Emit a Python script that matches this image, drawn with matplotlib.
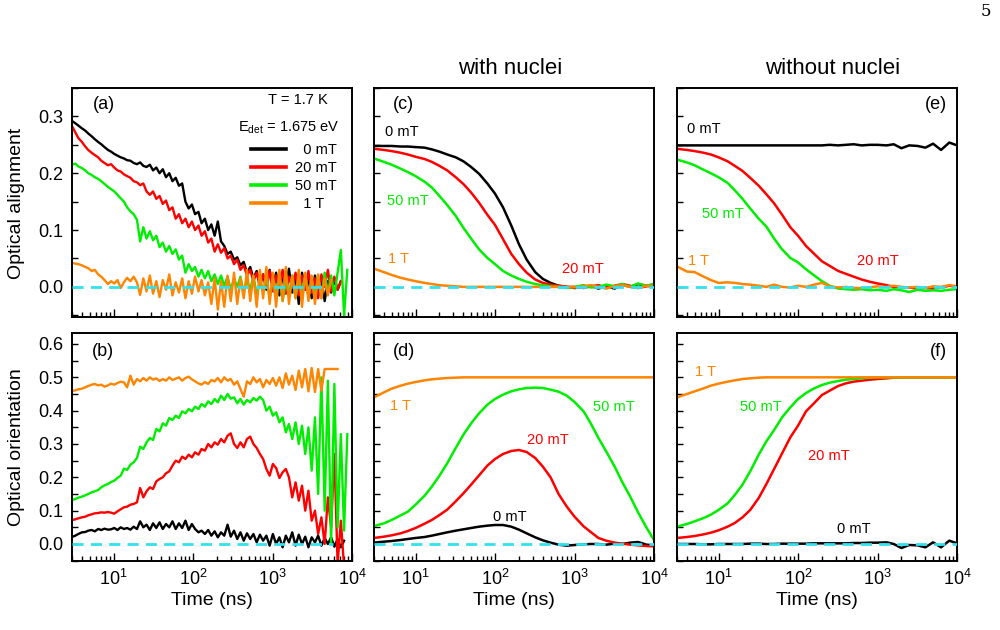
# -*- coding: utf-8 -*-
# plot.py - optical alignment / orientation vs time, experiment and model

import matplotlib
matplotlib.use("Agg")
import matplotlib.pyplot as plt
from matplotlib.ticker import MultipleLocator, LogLocator, NullFormatter, FormatStrFormatter

plt.rcParams['font.family'] = ['Liberation Sans', 'DejaVu Sans']
plt.rcParams['mathtext.fontset'] = 'custom'
plt.rcParams['mathtext.rm'] = 'Liberation Sans'
plt.rcParams['mathtext.it'] = 'Liberation Sans:italic'
plt.rcParams['mathtext.bf'] = 'Liberation Sans:bold'
plt.rcParams['mathtext.default'] = 'regular'

# ---------------- data ----------------
fields = ['  0 mT', '20 mT', '50 mT', '  1 T']
colors = ['#000000', '#FF0000', '#00EE00', '#FF8400']

# measured time axis (ns), panels (a) and (b)
t_exp = [3.0, 3.3, 3.6, 4.0, 4.4, 4.8, 5.3, 5.8, 6.4, 7.0,
         7.7, 8.5, 9.3, 10.2, 11.2, 12.3, 13.5, 14.8, 16.3, 17.9,
         19.7, 21.6, 23.7, 26.0, 28.6, 31.4, 34.5, 37.9, 41.6, 45.7,
         50.2, 55.1, 60.5, 66.5, 73.0, 80.2, 88.1, 96.8, 106, 117,
         128, 141, 155, 170, 187, 205, 225, 247, 272, 298,
         328, 360, 395, 434, 477, 524, 575, 632, 694, 762,
         837, 920, 1010, 1110, 1220, 1340, 1470, 1610, 1770, 1950,
         2140, 2350, 2580, 2830, 3110, 3420, 3750, 4120, 4530, 4970,
         5460, 6000, 6590, 7240, 7950, 8730]

# (a) optical alignment, experiment
a_black = [0.292, 0.288, 0.284, 0.279, 0.275, 0.270, 0.265, 0.260, 0.255, 0.251,
           0.246, 0.241, 0.238, 0.234, 0.231, 0.228, 0.226, 0.223, 0.222, 0.218,
           0.216, 0.219, 0.213, 0.211, 0.215, 0.205, 0.210, 0.200, 0.207, 0.193,
           0.200, 0.186, 0.192, 0.178, 0.182, 0.150, 0.138, 0.145, 0.128, 0.132,
           0.112, 0.120, 0.100, 0.110, 0.090, 0.115, 0.080, 0.072, 0.058, 0.062,
           0.048, 0.052, 0.038, 0.044, 0.025, 0.035, 0.015, 0.028, 0.005, 0.022,
           -0.005, 0.030, 0.000, 0.025, -0.015, 0.020, 0.002, 0.032, -0.010, 0.018,
           -0.030, 0.025, -0.005, 0.015, -0.020, 0.020, -0.010, 0.015, -0.025, 0.010,
           -0.010, 0.012, -0.005, 0.010]
a_red = [0.283, 0.272, 0.262, 0.255, 0.247, 0.241, 0.236, 0.232, 0.228, 0.222,
         0.218, 0.214, 0.216, 0.210, 0.205, 0.203, 0.198, 0.195, 0.192, 0.186,
         0.184, 0.179, 0.182, 0.168, 0.162, 0.168, 0.155, 0.160, 0.146, 0.152,
         0.135, 0.140, 0.120, 0.128, 0.112, 0.120, 0.105, 0.115, 0.100, 0.108,
         0.090, 0.098, 0.078, 0.085, 0.062, 0.075, 0.060, 0.068, 0.050, 0.055,
         0.040, 0.048, 0.030, 0.038, 0.020, 0.030, 0.010, 0.025, 0.000, 0.022,
         0.005, 0.028, -0.008, 0.020, 0.000, 0.030, -0.012, 0.018, 0.002, 0.025,
         -0.015, 0.020, -0.005, 0.028, -0.010, 0.015, -0.020, 0.022, 0.000, 0.030,
         -0.008, 0.018, -0.005, 0.010]
a_green = [0.215, 0.217, 0.212, 0.209, 0.205, 0.200, 0.197, 0.193, 0.190, 0.186,
           0.181, 0.176, 0.172, 0.168, 0.162, 0.156, 0.150, 0.140, 0.133, 0.128,
           0.118, 0.080, 0.105, 0.085, 0.098, 0.082, 0.090, 0.070, 0.078, 0.062,
           0.072, 0.058, 0.066, 0.048, 0.055, 0.025, 0.040, 0.028, 0.035, 0.018,
           0.030, 0.015, 0.028, 0.010, 0.022, 0.005, 0.020, 0.002, 0.018, -0.005,
           0.015, 0.000, 0.018, -0.010, 0.012, -0.005, 0.020, -0.015, 0.010, -0.008,
           0.015, -0.020, 0.012, -0.010, 0.018, -0.025, 0.010, -0.015, 0.020, -0.020,
           0.015, -0.010, 0.022, -0.018, 0.012, -0.015, 0.020, -0.020, 0.025, -0.010,
           0.020, -0.015, 0.025, 0.065, -0.050, 0.030]
a_orange = [0.042, 0.041, 0.040, 0.038, 0.035, 0.033, 0.028, 0.030, 0.022, 0.018,
            0.012, 0.005, 0.010, 0.006, 0.012, -0.002, 0.008, 0.016, 0.010, 0.018,
            0.008, -0.014, 0.015, -0.008, 0.020, -0.012, 0.010, -0.018, 0.012, -0.005,
            0.022, -0.015, 0.008, -0.010, 0.015, -0.020, 0.010, -0.012, 0.018, -0.008,
            0.012, -0.015, 0.008, -0.030, 0.015, -0.040, 0.010, -0.035, 0.020, -0.025,
            0.025, -0.030, 0.015, -0.020, 0.030, -0.025, 0.020, -0.035, 0.030, -0.020,
            0.035, -0.030, 0.025, -0.035, 0.030, -0.025, 0.035, -0.030, 0.020, -0.020,
            0.030, -0.035, 0.025, -0.025, 0.020, -0.030, 0.022, -0.020, 0.015, -0.015,
            0.012]

# (b) optical orientation, experiment
b_black = [0.021, 0.025, 0.030, 0.035, 0.036, 0.040, 0.042, 0.038, 0.045, 0.042,
           0.046, 0.043, 0.044, 0.048, 0.042, 0.050, 0.045, 0.048, 0.043, 0.052,
           0.045, 0.068, 0.050, 0.058, 0.042, 0.062, 0.048, 0.065, 0.045, 0.060,
           0.050, 0.068, 0.045, 0.062, 0.048, 0.070, 0.042, 0.060, 0.045, 0.035,
           0.040, 0.030, 0.042, 0.025, 0.038, 0.020, 0.035, 0.025, 0.058, 0.022,
           0.040, 0.015, 0.035, 0.010, 0.032, 0.015, 0.030, 0.005, 0.028, 0.010,
           0.025, -0.005, 0.030, 0.000, 0.020, -0.010, 0.025, 0.005, 0.035, -0.005,
           0.028, 0.000, 0.022, -0.010, 0.020, 0.005, 0.025, -0.005, 0.018, 0.000,
           0.020, -0.008, 0.015, -0.010, 0.010]
b_red = [0.072, 0.074, 0.077, 0.080, 0.082, 0.086, 0.089, 0.092, 0.093, 0.095,
         0.094, 0.096, 0.094, 0.091, 0.098, 0.104, 0.110, 0.112, 0.118, 0.120,
         0.125, 0.168, 0.140, 0.158, 0.170, 0.165, 0.188, 0.195, 0.200, 0.212,
         0.218, 0.235, 0.250, 0.245, 0.262, 0.255, 0.268, 0.260, 0.275, 0.268,
         0.285, 0.280, 0.300, 0.290, 0.305, 0.298, 0.315, 0.305, 0.325, 0.332,
         0.300, 0.288, 0.305, 0.290, 0.315, 0.322, 0.300, 0.288, 0.270, 0.255,
         0.225, 0.205, 0.240, 0.228, 0.198, 0.215, 0.225, 0.200, 0.140, 0.185,
         0.130, 0.175, 0.100, 0.160, 0.070, 0.100, 0.030, 0.080, 0.000, 0.140,
         0.050, 0.270, -0.060, 0.070, -0.070]
b_green = [0.132, 0.135, 0.139, 0.142, 0.146, 0.150, 0.155, 0.158, 0.162, 0.170,
           0.176, 0.180, 0.186, 0.190, 0.198, 0.205, 0.226, 0.222, 0.238, 0.245,
           0.258, 0.292, 0.285, 0.305, 0.318, 0.312, 0.345, 0.338, 0.362, 0.355,
           0.378, 0.372, 0.385, 0.378, 0.398, 0.392, 0.405, 0.398, 0.412, 0.405,
           0.420, 0.412, 0.428, 0.420, 0.435, 0.425, 0.445, 0.432, 0.450, 0.436,
           0.440, 0.422, 0.435, 0.418, 0.432, 0.425, 0.438, 0.430, 0.442, 0.432,
           0.400, 0.412, 0.385, 0.395, 0.365, 0.380, 0.335, 0.360, 0.315, 0.365,
           0.300, 0.355, 0.270, 0.350, 0.220, 0.380, 0.150, 0.500, 0.100, 0.490,
           0.000, 0.480, 0.050, 0.330, 0.040, 0.330]
b_orange = [0.459, 0.461, 0.464, 0.466, 0.470, 0.474, 0.478, 0.480, 0.476, 0.478,
            0.472, 0.476, 0.481, 0.478, 0.483, 0.487, 0.485, 0.470, 0.505, 0.478,
            0.495, 0.488, 0.498, 0.490, 0.500, 0.493, 0.497, 0.489, 0.495, 0.490,
            0.500, 0.492, 0.496, 0.500, 0.490, 0.498, 0.502, 0.494, 0.488, 0.482,
            0.478, 0.486, 0.480, 0.492, 0.488, 0.498, 0.485, 0.500, 0.490, 0.495,
            0.478, 0.488, 0.465, 0.442, 0.488, 0.480, 0.500, 0.485, 0.495, 0.470,
            0.492, 0.480, 0.498, 0.475, 0.500, 0.468, 0.512, 0.478, 0.505, 0.462,
            0.520, 0.470, 0.525, 0.458, 0.528, 0.456, 0.525, 0.460, 0.525, 0.525,
            0.525, 0.525, 0.525]

# model time axis (ns), panels (c)-(f)
t_sim = [3, 4, 5, 6.5, 8, 10, 13, 16, 20, 25,
         32, 40, 50, 63, 80, 100, 126, 160, 200, 250,
         320, 400, 500, 630, 800, 1000, 1300, 1600, 2000, 2500,
         3200, 4000, 5000, 6300, 8000, 10000]

# (c) alignment, with nuclei
c_black = [0.248, 0.248, 0.248, 0.247, 0.247, 0.246, 0.245, 0.242, 0.238, 0.233,
           0.228, 0.221, 0.211, 0.199, 0.182, 0.164, 0.140, 0.108, 0.075, 0.048,
           0.026, 0.014, 0.007, 0.002, 0.000, -0.002, 0.000, 0.002, -0.003, 0.001,
           -0.003, 0.004, 0.000, 0.005, 0.002, 0.004]
c_red = [0.243, 0.241, 0.239, 0.236, 0.233, 0.229, 0.225, 0.220, 0.213, 0.205,
         0.193, 0.181, 0.166, 0.148, 0.127, 0.109, 0.084, 0.058, 0.040, 0.025,
         0.013, 0.007, 0.004, 0.002, 0.000, 0.000, -0.002, 0.001, 0.003, -0.001,
         0.002, 0.005, 0.002, -0.002, 0.001, 0.002]
c_green = [0.226, 0.220, 0.215, 0.208, 0.202, 0.195, 0.185, 0.175, 0.160, 0.144,
           0.125, 0.104, 0.085, 0.066, 0.051, 0.040, 0.028, 0.020, 0.014, 0.009,
           0.005, 0.003, 0.001, 0.000, -0.002, 0.000, 0.003, -0.001, 0.000, 0.004,
           0.001, 0.005, 0.000, 0.006, 0.002, 0.005]
c_orange = [0.032, 0.026, 0.021, 0.016, 0.013, 0.010, 0.007, 0.005, 0.003, 0.002,
            0.001, 0.000, 0.000, 0.000, 0.000, 0.000, 0.000, 0.000, 0.000, 0.000,
            0.000, 0.000, 0.000, 0.000, 0.000, -0.001, 0.001, 0.003, 0.000, -0.003,
            0.001, 0.003, 0.000, -0.002, 0.002, 0.001]

# (d) orientation, with nuclei
d_black = [0.004, 0.007, 0.009, 0.012, 0.015, 0.018, 0.021, 0.025, 0.030, 0.035,
           0.040, 0.044, 0.048, 0.052, 0.055, 0.057, 0.057, 0.052, 0.043, 0.032,
           0.020, 0.011, 0.004, -0.002, -0.005, -0.003, -0.001, 0.000, 0.000, -0.002,
           0.001, 0.000, 0.004, 0.006, -0.002, -0.004]
d_red = [0.018, 0.022, 0.026, 0.032, 0.039, 0.048, 0.061, 0.072, 0.087, 0.103,
         0.128, 0.152, 0.178, 0.206, 0.235, 0.255, 0.270, 0.279, 0.282, 0.276,
         0.258, 0.232, 0.200, 0.150, 0.112, 0.082, 0.053, 0.036, 0.018, 0.010,
         0.004, 0.001, -0.002, -0.004, -0.006, -0.007]
d_green = [0.054, 0.062, 0.072, 0.086, 0.097, 0.118, 0.145, 0.172, 0.205, 0.242,
           0.288, 0.328, 0.362, 0.392, 0.418, 0.435, 0.448, 0.458, 0.464, 0.468,
           0.469, 0.468, 0.463, 0.457, 0.445, 0.426, 0.398, 0.362, 0.318, 0.278,
           0.232, 0.185, 0.143, 0.095, 0.050, 0.012]
d_orange = [0.440, 0.455, 0.466, 0.475, 0.481, 0.486, 0.491, 0.494, 0.496, 0.498,
            0.499, 0.500, 0.500, 0.500, 0.500, 0.500, 0.500, 0.500, 0.500, 0.500,
            0.500, 0.500, 0.500, 0.500, 0.500, 0.500, 0.500, 0.500, 0.500, 0.500,
            0.500, 0.500, 0.500, 0.500, 0.500, 0.500]

# (e) alignment, without nuclei
e_black = [0.249, 0.249, 0.249, 0.249, 0.249, 0.249, 0.249, 0.249, 0.249, 0.249,
           0.249, 0.249, 0.249, 0.249, 0.249, 0.249, 0.249, 0.249, 0.249, 0.250,
           0.249, 0.250, 0.251, 0.249, 0.250, 0.250, 0.249, 0.251, 0.244, 0.249,
           0.248, 0.245, 0.252, 0.241, 0.254, 0.249]
e_red = [0.243, 0.241, 0.239, 0.236, 0.233, 0.228, 0.221, 0.213, 0.204, 0.192,
         0.178, 0.163, 0.147, 0.127, 0.105, 0.090, 0.072, 0.058, 0.045, 0.037,
         0.028, 0.023, 0.018, 0.013, 0.009, 0.006, 0.003, 0.000, -0.001, -0.001,
         -0.003, -0.002, -0.003, -0.001, 0.002, 0.000]
e_green = [0.224, 0.219, 0.214, 0.206, 0.200, 0.193, 0.183, 0.170, 0.155, 0.138,
           0.120, 0.106, 0.085, 0.066, 0.051, 0.043, 0.031, 0.020, 0.010, 0.002,
           -0.003, -0.004, -0.005, -0.004, -0.006, -0.005, -0.007, -0.004, -0.006, -0.009,
           -0.005, -0.007, -0.006, -0.007, -0.005, -0.004]
e_orange = [0.036, 0.027, 0.026, 0.018, 0.012, 0.007, 0.008, 0.007, 0.005, 0.004,
            0.002, 0.000, 0.004, 0.000, -0.001, 0.002, 0.000, 0.004, 0.007, 0.001,
            -0.001, 0.000, -0.002, -0.002, -0.001, 0.001, 0.000, 0.002, 0.000, -0.001,
            0.000, -0.002, 0.001, 0.000, 0.003, 0.001]

# (f) orientation, without nuclei
f_black = [0.000, 0.000, 0.000, -0.001, -0.001, 0.000, 0.000, 0.000, 0.000, 0.001,
           0.001, 0.000, 0.000, 0.001, 0.001, 0.001, 0.001, 0.002, 0.002, 0.002,
           0.002, 0.002, 0.003, 0.003, 0.004, 0.004, 0.005, 0.000, -0.012, -0.003,
           -0.004, -0.010, 0.005, -0.010, 0.010, 0.002]
f_red = [0.018, 0.021, 0.024, 0.029, 0.034, 0.041, 0.052, 0.063, 0.080, 0.102,
         0.138, 0.180, 0.225, 0.272, 0.320, 0.355, 0.398, 0.423, 0.447, 0.460,
         0.474, 0.482, 0.487, 0.490, 0.493, 0.495, 0.497, 0.499, 0.500, 0.500,
         0.500, 0.500, 0.500, 0.500, 0.500, 0.500]
f_green = [0.052, 0.060, 0.068, 0.078, 0.088, 0.102, 0.122, 0.147, 0.178, 0.218,
           0.268, 0.308, 0.342, 0.380, 0.410, 0.435, 0.453, 0.467, 0.477, 0.484,
           0.489, 0.493, 0.495, 0.497, 0.499, 0.500, 0.500, 0.500, 0.500, 0.500,
           0.500, 0.500, 0.500, 0.500, 0.500, 0.500]
f_orange = [0.440, 0.450, 0.458, 0.467, 0.475, 0.481, 0.487, 0.491, 0.495, 0.497,
            0.499, 0.500, 0.500, 0.500, 0.500, 0.500, 0.500, 0.500, 0.500, 0.500,
            0.500, 0.500, 0.500, 0.500, 0.500, 0.500, 0.500, 0.500, 0.500, 0.500,
            0.500, 0.500, 0.500, 0.500, 0.500, 0.500]

# end of the cyan zero line in each panel (ns)
zero_end = {'a': 5000, 'b': 5800, 'c': 1e4, 'd': 1e4, 'e': 1e4, 'f': 1e4}

ZERO_COLOR = '#33E0F0'


def style_axes(ax, top_row, show_y, show_x):
    ax.set_xscale('log')
    ax.set_xlim(3, 1e4)
    if top_row:
        ax.set_ylim(-0.053, 0.35)
    else:
        ax.set_ylim(-0.051, 0.633)
    ax.yaxis.set_major_locator(MultipleLocator(0.1))
    ax.yaxis.set_minor_locator(MultipleLocator(0.05))
    ax.yaxis.set_major_formatter(FormatStrFormatter('%.1f'))
    ax.xaxis.set_major_locator(LogLocator(base=10, numticks=10))
    ax.xaxis.set_minor_locator(LogLocator(base=10, subs=range(2, 10), numticks=20))
    ax.xaxis.set_minor_formatter(NullFormatter())
    ax.tick_params(which='both', direction='in', top=False, right=False)
    ax.tick_params(axis='x', which='major', length=6, width=1.0, labelsize=13, pad=6)
    ax.tick_params(axis='x', which='minor', length=3.5, width=1.0)
    ax.tick_params(axis='y', which='both', length=4, width=1.0, labelsize=13, pad=6)
    if not show_y:
        ax.tick_params(axis='y', labelleft=False)
    if not show_x:
        ax.tick_params(axis='x', labelbottom=False)
    else:
        ax.set_xlabel('Time (ns)', fontsize=14, labelpad=2)
    for sp in ax.spines.values():
        sp.set_linewidth(1.4)


def draw_curves(ax, t, curves, lw=1.8):
    for y, c in zip(curves, colors):
        ax.plot(t[:len(y)], y, color=c, lw=lw, solid_joinstyle='round')


def zero_line(ax, key):
    ax.plot([3, zero_end[key]], [0, 0], color=ZERO_COLOR, lw=2.0,
            linestyle=(0, (4, 2.6)), zorder=5)


fig = plt.figure(figsize=(10, 6.3), dpi=100)

W, H = 1000.0, 630.0
col_left = [72, 374, 677]
col_w = 280
row_box = [(88, 317), (333, 561)]


def make_ax(col, row):
    top, bot = row_box[row]
    return fig.add_axes([col_left[col] / W, 1 - bot / H, col_w / W, (bot - top) / H])


ax_a = make_ax(0, 0)
ax_b = make_ax(0, 1)
ax_c = make_ax(1, 0)
ax_d = make_ax(1, 1)
ax_e = make_ax(2, 0)
ax_f = make_ax(2, 1)

draw_curves(ax_a, t_exp, [a_black, a_red, a_green, a_orange], lw=1.7)
draw_curves(ax_b, t_exp, [b_black, b_red, b_green, b_orange], lw=1.7)
draw_curves(ax_c, t_sim, [c_black, c_red, c_green, c_orange])
draw_curves(ax_d, t_sim, [d_black, d_red, d_green, d_orange])
draw_curves(ax_e, t_sim, [e_black, e_red, e_green, e_orange])
draw_curves(ax_f, t_sim, [f_black, f_red, f_green, f_orange])

for key, ax in zip('abcdef', [ax_a, ax_b, ax_c, ax_d, ax_e, ax_f]):
    zero_line(ax, key)

style_axes(ax_a, True, True, False)
style_axes(ax_b, False, True, True)
style_axes(ax_c, True, False, False)
style_axes(ax_d, False, False, True)
style_axes(ax_e, True, False, False)
style_axes(ax_f, False, False, True)

# panel letters
ax_a.text(0.075, 0.93, '(a)', transform=ax_a.transAxes, fontsize=13, va='center')
ax_b.text(0.072, 0.92, '(b)', transform=ax_b.transAxes, fontsize=13, va='center')
ax_c.text(0.068, 0.93, '(c)', transform=ax_c.transAxes, fontsize=13, va='center')
ax_d.text(0.068, 0.92, '(d)', transform=ax_d.transAxes, fontsize=13, va='center')
ax_e.text(0.965, 0.93, '(e)', transform=ax_e.transAxes, fontsize=13, va='center', ha='right')
ax_f.text(0.965, 0.92, '(f)', transform=ax_f.transAxes, fontsize=13, va='center', ha='right')

# annotations and legend in (a)
ax_a.text(0.805, 0.948, 'T = 1.7 K', transform=ax_a.transAxes, fontsize=10.5,
          ha='center', va='center')
ax_a.text(0.775, 0.825, r'E$_{\mathregular{det}}$ = 1.675 eV', transform=ax_a.transAxes,
          fontsize=10.5, ha='center', va='center')
handles = ax_a.get_lines()[:4]
leg = ax_a.legend(handles, fields, loc='upper left', bbox_to_anchor=(0.64, 0.76),
                  frameon=False, fontsize=10.5, handlelength=2.4, handletextpad=0.6,
                  labelspacing=0.28, borderpad=0, borderaxespad=0)
for line in leg.get_lines():
    line.set_linewidth(2.6)

# curve labels in model panels
lab_kw = dict(fontsize=10.5, va='center', ha='left')
ax_c.text(4.1, 0.272, '0 mT', color=colors[0], **lab_kw)
ax_c.text(4.35, 0.152, '50 mT', color=colors[2], **lab_kw)
ax_c.text(4.5, 0.049, '1 T', color=colors[3], **lab_kw)
ax_c.text(690, 0.032, '20 mT', color=colors[1], **lab_kw)

ax_d.text(4.75, 0.414, '1 T', color=colors[3], **lab_kw)
ax_d.text(1700, 0.411, '50 mT', color=colors[2], **lab_kw)
ax_d.text(252, 0.312, '20 mT', color=colors[1], **lab_kw)
ax_d.text(94, 0.081, '0 mT', color=colors[0], **lab_kw)

ax_e.text(4.0, 0.277, '0 mT', color=colors[0], **lab_kw)
ax_e.text(6.2, 0.129, '50 mT', color=colors[2], **lab_kw)
ax_e.text(4.1, 0.046, '1 T', color=colors[3], **lab_kw)
ax_e.text(550, 0.046, '20 mT', color=colors[1], **lab_kw)

ax_f.text(5.05, 0.517, '1 T', color=colors[3], **lab_kw)
ax_f.text(18.6, 0.411, '50 mT', color=colors[2], **lab_kw)
ax_f.text(133, 0.264, '20 mT', color=colors[1], **lab_kw)
ax_f.text(309, 0.045, '0 mT', color=colors[0], **lab_kw)

# column titles, y labels, page number
fig.text(510 / W, 1 - 68 / H, 'with nuclei', fontsize=16, ha='center', va='center')
fig.text(833 / W, 1 - 68 / H, 'without nuclei', fontsize=16, ha='center', va='center')
fig.text(17 / W, 1 - 203 / H, 'Optical alignment', fontsize=14, rotation=90,
         ha='center', va='center')
fig.text(17 / W, 1 - 447 / H, 'Optical orientation', fontsize=14, rotation=90,
         ha='center', va='center')
fig.text(986 / W, 1 - 12 / H, '5', fontsize=12, family='DejaVu Serif',
         ha='center', va='center')

fig.savefig('out.png', dpi=100)
